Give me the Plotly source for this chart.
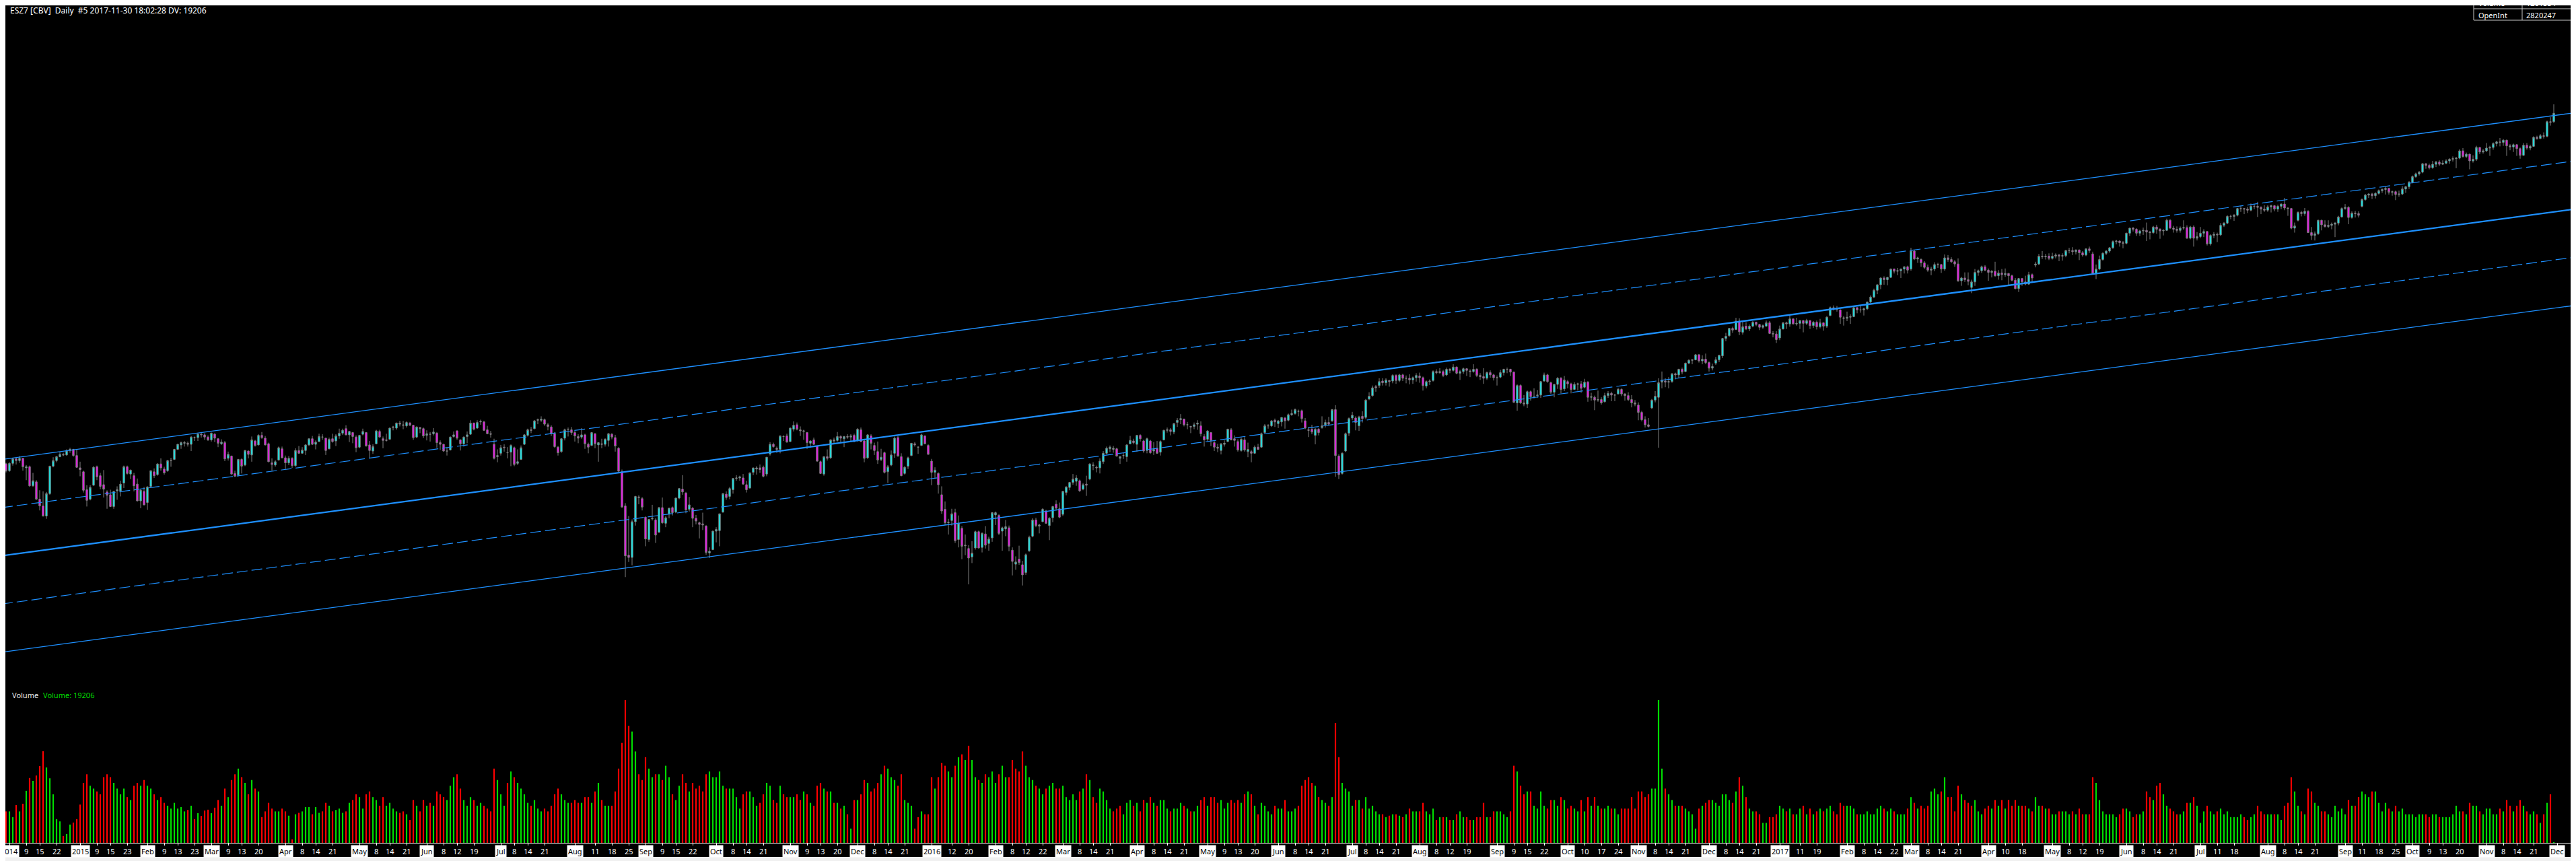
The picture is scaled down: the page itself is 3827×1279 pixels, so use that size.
import pandas as pd
import plotly.graph_objects as go

W, H = 3827, 1279


def px(x):
    return x / W


def py(y):
    return 1 - y / H


# calendario de sessoes (Good Friday 2015 teve sessao curta na CME)
HOLIDAYS = [
    "2014-12-25", "2015-01-01", "2015-01-19", "2015-02-16", "2015-05-25", "2015-07-03",
    "2015-09-07", "2015-11-26", "2015-12-25", "2016-01-01", "2016-01-18", "2016-02-15",
    "2016-03-25", "2016-05-30", "2016-07-04", "2016-09-05", "2016-11-24", "2016-12-26",
    "2017-01-02", "2017-01-16", "2017-02-20", "2017-04-14", "2017-05-29", "2017-07-04",
    "2017-09-04", "2017-11-23",
]
cal = [d.strftime("%Y-%m-%d") for d in pd.bdate_range("2014-12-01", "2017-12-08")]
dates = [d for d in cal if d not in HOLIDAYS]

# OHLC diario (continuo ajustado)
open_ = [
    2015, 2003, 2016, 2024, 2021, 2025, 2008, 2010, 1976, 1983, 1952, 1940, 1922, 1962, 2011, 2021, 2028, 2032, 2031, 2039, 2041, 2030,
    2008, 2001, 1969, 1952, 1977, 2010, 1994, 1978, 1965, 1960, 1939, 1967, 1967, 1981, 2010, 1997, 1994, 1979, 1949, 1966,
    1946, 1975, 2001, 1996, 2015, 2006, 2003, 2021, 2023, 2041, 2049, 2052, 2052, 2050, 2062, 2062, 2068, 2067, 2063,
    2058, 2068, 2060, 2051, 2053, 2025, 2029, 1998, 1995, 2023, 2013, 2038, 2031, 2056, 2049, 2066, 2061, 2051, 2017, 2013, 2022, 2042,
    2026, 2017, 2025, 2012, 2039, 2034, 2039, 2049, 2060, 2050, 2055, 2063, 2061, 2042, 2060, 2056, 2065, 2070, 2078, 2067, 2071, 2063,
    2045, 2068, 2071, 2049, 2038, 2051, 2073, 2060, 2058, 2059, 2080, 2079, 2088, 2085, 2083, 2088, 2084, 2063, 2080, 2078,
    2066, 2068, 2069, 2070, 2053, 2050, 2038, 2040, 2064, 2074, 2058, 2051, 2064, 2068, 2088, 2079, 2090, 2090, 2076, 2069, 2050, 2028,
    2034, 2045, 2035, 2036, 2044, 2016, 2023, 2050, 2066, 2076, 2078, 2093, 2093, 2094, 2085, 2081, 2069, 2045, 2037, 2061, 2076, 2076,
    2071, 2064, 2063, 2067, 2050, 2048, 2069, 2049, 2051, 2050, 2057, 2068, 2062, 2043, 2001, 1940, 1852, 1848, 1912, 1956, 1953,
    1920, 1880, 1917, 1915, 1893, 1937, 1909, 1926, 1937, 1929, 1954, 1970, 1963, 1934, 1936, 1918, 1910, 1908, 1904, 1856, 1862,
    1895, 1896, 1929, 1961, 1957, 1969, 1989, 1990, 1990, 1978, 1972, 2000, 2006, 2008, 2009, 1997, 2033, 2050, 2043, 2041, 2064, 2065,
    2055, 2077, 2085, 2076, 2073, 2071, 2052, 2058, 2047, 2019, 1997, 2028, 2026, 2058, 2057, 2064, 2060, 2064, 2063, 2066,
    2057, 2076, 2056, 2026, 2065, 2048, 2037, 2023, 2035, 2001, 2013, 2034, 2062, 2028, 1998, 2011, 2030, 2051, 2045, 2048, 2065, 2048,
    2020, 2000, 1998, 1960, 1934, 1910, 1914, 1928, 1880, 1900, 1870, 1864, 1849, 1865, 1894, 1866, 1890, 1873, 1883,
    1924, 1923, 1895, 1899, 1901, 1861, 1836, 1845, 1835, 1821, 1860, 1886, 1915, 1904, 1912, 1931, 1905, 1919, 1943, 1935,
    1925, 1964, 1973, 1982, 1984, 1985, 1970, 1979, 1988, 2012, 2009, 2008, 2019, 2034, 2042, 2041, 2042, 2025, 2030, 2028, 2051, 2056,
    2050, 2066, 2056, 2039, 2056, 2038, 2043, 2036, 2058, 2075, 2076, 2072, 2089, 2094, 2095, 2085, 2082, 2082, 2086, 2083, 2064,
    2059, 2071, 2053, 2045, 2039, 2050, 2055, 2076, 2060, 2055, 2039, 2058, 2037, 2037, 2034, 2045, 2045, 2071, 2083, 2083, 2093,
    2087, 2090, 2097, 2093, 2103, 2105, 2109, 2110, 2092, 2076, 2077, 2066, 2077, 2080, 2085, 2089, 2092, 2112, 2029, 1998, 2038, 2070,
    2097, 2097, 2083, 2100, 2098, 2131, 2137, 2153, 2155, 2163, 2160, 2164, 2163, 2173, 2164, 2174, 2168, 2168, 2165, 2169,
    2172, 2169, 2154, 2162, 2164, 2180, 2178, 2180, 2174, 2184, 2182, 2188, 2177, 2180, 2185, 2181, 2180, 2184, 2173, 2171, 2168, 2178, 2174,
    2169, 2170, 2178, 2184, 2184, 2179, 2124, 2155, 2124, 2122, 2144, 2136, 2137, 2138, 2163, 2174, 2160, 2143, 2157, 2168, 2149,
    2162, 2158, 2148, 2157, 2158, 2152, 2161, 2134, 2134, 2129, 2130, 2126, 2137, 2141, 2138, 2140, 2148, 2140, 2137, 2130, 2124,
    2120, 2107, 2094, 2085, 2115, 2129, 2134, 2161, 2163, 2161, 2162, 2176, 2174, 2184, 2180, 2195, 2200, 2201, 2210, 2199, 2202,
    2196, 2186, 2195, 2201, 2208, 2239, 2244, 2257, 2255, 2270, 2250, 2261, 2256, 2261, 2268, 2264, 2259, 2261, 2267, 2248, 2247,
    2240, 2256, 2267, 2265, 2274, 2265, 2266, 2271, 2266, 2271, 2262, 2268, 2260, 2267, 2261, 2280, 2294, 2293, 2290, 2276,
    2275, 2277, 2278, 2294, 2290, 2290, 2292, 2304, 2313, 2325, 2335, 2347, 2344, 2348, 2363, 2359, 2360, 2363, 2367,
    2363, 2395, 2381, 2380, 2374, 2366, 2361, 2363, 2371, 2371, 2363, 2383, 2380, 2376, 2372, 2342, 2347, 2344, 2330, 2340, 2357, 2360, 2367,
    2361, 2357, 2359, 2351, 2356, 2353, 2355, 2351, 2343, 2328, 2346, 2340, 2336, 2353, 2370, 2372, 2386, 2385, 2386,
    2382, 2386, 2388, 2386, 2387, 2396, 2396, 2394, 2397, 2392, 2388, 2399, 2390, 2355, 2363, 2380, 2391, 2395, 2401, 2412, 2413, 2410,
    2409, 2427, 2436, 2434, 2427, 2431, 2432, 2429, 2428, 2438, 2434, 2431, 2432, 2450, 2436, 2434, 2432, 2436, 2437, 2418, 2438, 2418,
    2421, 2427, 2430, 2408, 2423, 2425, 2424, 2441, 2445, 2457, 2457, 2459, 2471, 2471, 2470, 2468, 2475, 2475, 2473, 2470,
    2468, 2474, 2476, 2470, 2475, 2479, 2472, 2471, 2436, 2450, 2464, 2462, 2466, 2428, 2423, 2426, 2450, 2442, 2439, 2441, 2443, 2445, 2456,
    2471, 2473, 2455, 2463, 2462, 2475, 2487, 2495, 2497, 2494, 2498, 2503, 2505, 2507, 2500, 2501, 2496, 2497, 2506, 2510,
    2518, 2528, 2533, 2536, 2551, 2548, 2544, 2550, 2554, 2550, 2552, 2556, 2559, 2560, 2561, 2574, 2564, 2568, 2556, 2559, 2580, 2572,
    2574, 2579, 2580, 2587, 2590, 2589, 2593, 2583, 2581, 2585, 2578, 2566, 2584, 2579, 2582, 2598, 2596, 2601, 2600, 2626, 2626,
]
high = [
    2017, 2018, 2026, 2027, 2029, 2026, 2013, 2012, 1999, 1986, 1968, 1966, 1965, 2012, 2027, 2029, 2036, 2035, 2041, 2044, 2042, 2040,
    2019, 2003, 1977, 1977, 2011, 2012, 1999, 2004, 1968, 1969, 1967, 1975, 1985, 2012, 2012, 2005, 1999, 1989, 1970, 1974,
    1975, 2003, 2007, 2016, 2025, 2010, 2022, 2026, 2042, 2051, 2055, 2056, 2055, 2065, 2064, 2070, 2072, 2070, 2066,
    2071, 2070, 2061, 2059, 2056, 2037, 2030, 2003, 2024, 2025, 2040, 2039, 2064, 2058, 2068, 2072, 2065, 2053, 2025, 2022, 2046, 2046,
    2030, 2029, 2027, 2043, 2047, 2045, 2050, 2060, 2065, 2057, 2069, 2068, 2062, 2062, 2069, 2068, 2078, 2078, 2084, 2074, 2072, 2066,
    2067, 2078, 2072, 2056, 2050, 2076, 2076, 2064, 2069, 2080, 2083, 2089, 2092, 2092, 2091, 2090, 2085, 2082, 2081, 2080,
    2075, 2072, 2079, 2072, 2057, 2051, 2045, 2064, 2073, 2075, 2059, 2064, 2073, 2093, 2089, 2093, 2094, 2092, 2083, 2074, 2060, 2041,
    2049, 2050, 2045, 2050, 2046, 2041, 2048, 2068, 2078, 2081, 2093, 2096, 2100, 2096, 2088, 2084, 2072, 2047, 2061, 2078, 2080, 2081,
    2074, 2068, 2079, 2069, 2053, 2072, 2070, 2054, 2060, 2061, 2070, 2070, 2067, 2045, 2005, 1945, 1922, 1916, 1958, 1959, 1956,
    1921, 1917, 1942, 1918, 1938, 1955, 1922, 1937, 1939, 1955, 1972, 1995, 1965, 1956, 1938, 1924, 1912, 1928, 1906, 1866, 1896,
    1902, 1926, 1963, 1966, 1974, 1990, 1995, 1994, 1997, 1985, 2000, 2008, 2011, 2014, 2012, 2027, 2054, 2053, 2046, 2066, 2066, 2069,
    2080, 2091, 2089, 2082, 2076, 2072, 2057, 2062, 2048, 2021, 2028, 2041, 2059, 2062, 2072, 2066, 2065, 2068, 2068, 2069,
    2079, 2080, 2060, 2068, 2068, 2053, 2055, 2042, 2037, 2013, 2039, 2064, 2065, 2034, 2011, 2028, 2052, 2054, 2046, 2069, 2066, 2050,
    2024, 2009, 2000, 1975, 1948, 1917, 1935, 1935, 1923, 1904, 1889, 1870, 1877, 1896, 1896, 1893, 1904, 1885, 1929,
    1930, 1925, 1903, 1915, 1905, 1866, 1850, 1869, 1842, 1855, 1887, 1918, 1919, 1908, 1936, 1933, 1920, 1940, 1950, 1946,
    1967, 1975, 1983, 1997, 1995, 1987, 1981, 1994, 2016, 2018, 2012, 2025, 2038, 2046, 2048, 2047, 2044, 2029, 2035, 2050, 2065, 2060,
    2067, 2068, 2058, 2062, 2058, 2054, 2056, 2057, 2076, 2080, 2079, 2088, 2097, 2104, 2096, 2090, 2083, 2089, 2093, 2091, 2068,
    2075, 2072, 2056, 2051, 2052, 2057, 2078, 2079, 2066, 2059, 2062, 2063, 2053, 2040, 2048, 2051, 2071, 2086, 2086, 2093, 2096,
    2093, 2098, 2099, 2105, 2112, 2114, 2112, 2112, 2097, 2081, 2085, 2079, 2079, 2100, 2094, 2099, 2113, 2120, 2032, 2036, 2071, 2098,
    2108, 2100, 2101, 2109, 2131, 2143, 2155, 2156, 2168, 2168, 2168, 2165, 2175, 2175, 2176, 2176, 2173, 2175, 2171, 2177,
    2178, 2171, 2164, 2166, 2182, 2184, 2186, 2183, 2187, 2186, 2193, 2189, 2183, 2187, 2186, 2184, 2193, 2186, 2177, 2186, 2180, 2182, 2176,
    2173, 2183, 2185, 2187, 2185, 2180, 2157, 2157, 2138, 2146, 2146, 2150, 2147, 2163, 2178, 2176, 2162, 2158, 2170, 2170, 2172,
    2165, 2160, 2161, 2160, 2163, 2167, 2163, 2142, 2137, 2146, 2134, 2142, 2145, 2144, 2140, 2151, 2150, 2141, 2143, 2138, 2129,
    2125, 2110, 2100, 2097, 2131, 2145, 2168, 2180, 2168, 2170, 2177, 2178, 2185, 2187, 2196, 2202, 2202, 2211, 2211, 2209, 2212,
    2198, 2194, 2206, 2210, 2240, 2249, 2258, 2260, 2276, 2275, 2270, 2268, 2264, 2270, 2269, 2265, 2264, 2271, 2270, 2252, 2252,
    2262, 2268, 2269, 2280, 2275, 2276, 2272, 2272, 2274, 2272, 2270, 2271, 2274, 2268, 2279, 2296, 2298, 2297, 2291, 2279,
    2287, 2282, 2295, 2295, 2298, 2294, 2305, 2316, 2328, 2335, 2348, 2350, 2349, 2364, 2364, 2365, 2364, 2368, 2369,
    2401, 2397, 2385, 2382, 2377, 2371, 2367, 2375, 2374, 2372, 2389, 2388, 2384, 2379, 2382, 2349, 2357, 2357, 2344, 2363, 2362, 2369, 2370,
    2364, 2361, 2376, 2361, 2363, 2364, 2356, 2353, 2347, 2347, 2347, 2351, 2358, 2355, 2376, 2390, 2395, 2390, 2391,
    2392, 2391, 2390, 2391, 2397, 2401, 2402, 2398, 2398, 2395, 2400, 2403, 2394, 2371, 2387, 2393, 2397, 2402, 2414, 2415, 2414, 2413,
    2428, 2437, 2438, 2436, 2433, 2437, 2446, 2431, 2440, 2442, 2436, 2434, 2453, 2452, 2440, 2439, 2439, 2450, 2441, 2440, 2441, 2429,
    2438, 2434, 2431, 2425, 2429, 2428, 2445, 2447, 2459, 2460, 2461, 2472, 2476, 2472, 2474, 2480, 2479, 2483, 2475, 2477,
    2477, 2478, 2477, 2478, 2480, 2490, 2473, 2472, 2446, 2466, 2467, 2472, 2468, 2438, 2430, 2451, 2451, 2450, 2450, 2446, 2447, 2458, 2473,
    2479, 2475, 2466, 2467, 2466, 2489, 2497, 2498, 2499, 2500, 2505, 2507, 2510, 2508, 2503, 2503, 2503, 2511, 2511, 2520,
    2530, 2535, 2538, 2552, 2552, 2551, 2556, 2556, 2557, 2557, 2559, 2561, 2564, 2563, 2577, 2579, 2571, 2569, 2566, 2583, 2581, 2577,
    2588, 2583, 2589, 2592, 2597, 2595, 2594, 2586, 2587, 2586, 2580, 2588, 2588, 2585, 2600, 2601, 2604, 2607, 2628, 2634, 2657,
]
low = [
    2000, 2001, 2012, 2014, 2017, 2003, 1986, 1974, 1974, 1951, 1932, 1921, 1917, 1960, 2009, 2018, 2027, 2029, 2030, 2035, 2028, 2008,
    1993, 1964, 1939, 1950, 1976, 1986, 1970, 1955, 1935, 1938, 1935, 1951, 1957, 1972, 1996, 1988, 1966, 1948, 1936, 1941,
    1933, 1973, 1990, 1994, 2003, 1996, 2001, 2010, 2022, 2040, 2042, 2046, 2046, 2038, 2056, 2056, 2062, 2058, 2056,
    2055, 2054, 2045, 2049, 2020, 2021, 1996, 1992, 1993, 1998, 2011, 2025, 2019, 2046, 2048, 2060, 2048, 2018, 2003, 2010, 2021, 2025,
    2006, 2013, 2008, 2010, 2033, 2033, 2031, 2047, 2049, 2041, 2054, 2058, 2031, 2041, 2053, 2047, 2060, 2067, 2066, 2054, 2052, 2036,
    2043, 2066, 2046, 2026, 2033, 2050, 2062, 2043, 2055, 2058, 2075, 2076, 2082, 2077, 2080, 2083, 2058, 2061, 2070, 2061,
    2057, 2055, 2066, 2044, 2040, 2037, 2030, 2039, 2062, 2058, 2039, 2046, 2052, 2067, 2075, 2078, 2085, 2074, 2068, 2062, 2023, 2018,
    2030, 2037, 2025, 2011, 2011, 2013, 2022, 2049, 2064, 2070, 2077, 2086, 2090, 2083, 2075, 2065, 2044, 2030, 2035, 2057, 2064, 2067,
    2055, 2052, 2060, 2042, 2034, 2047, 2043, 2019, 2043, 2046, 2046, 2059, 2037, 2001, 1937, 1813, 1840, 1834, 1905, 1943, 1932,
    1868, 1876, 1914, 1874, 1892, 1908, 1902, 1918, 1923, 1927, 1952, 1960, 1927, 1930, 1902, 1907, 1882, 1897, 1853, 1847, 1861,
    1875, 1868, 1928, 1951, 1952, 1962, 1985, 1985, 1978, 1964, 1971, 1995, 1996, 1999, 1991, 1993, 2030, 2044, 2035, 2034, 2056, 2053,
    2054, 2073, 2075, 2065, 2058, 2042, 2044, 2049, 2019, 1997, 1994, 2021, 2024, 2052, 2055, 2053, 2045, 2060, 2056, 2054,
    2055, 2054, 2018, 2024, 2041, 2031, 2015, 2020, 1998, 1981, 2011, 2026, 2028, 1993, 1996, 2006, 2029, 2046, 2033, 2047, 2050, 2032,
    1977, 1990, 1962, 1926, 1906, 1889, 1905, 1874, 1866, 1845, 1852, 1800, 1838, 1862, 1864, 1857, 1864, 1860, 1876,
    1906, 1888, 1860, 1886, 1859, 1816, 1826, 1835, 1798, 1817, 1858, 1884, 1902, 1891, 1911, 1908, 1879, 1911, 1932, 1918,
    1922, 1959, 1968, 1978, 1976, 1965, 1968, 1958, 1986, 2004, 2000, 1998, 2015, 2032, 2036, 2035, 2028, 2015, 2024, 2019, 2050, 2050,
    2037, 2055, 2035, 2034, 2033, 2031, 2033, 2030, 2057, 2071, 2066, 2068, 2081, 2086, 2082, 2077, 2070, 2077, 2076, 2064, 2046,
    2055, 2047, 2038, 2036, 2032, 2046, 2054, 2057, 2046, 2037, 2037, 2037, 2027, 2018, 2033, 2040, 2044, 2070, 2078, 2081, 2081,
    2079, 2082, 2078, 2091, 2101, 2103, 2100, 2089, 2077, 2063, 2068, 2050, 2066, 2078, 2080, 2083, 2090, 1992, 1988, 1996, 2036, 2065,
    2093, 2075, 2074, 2089, 2095, 2129, 2135, 2144, 2151, 2155, 2155, 2153, 2159, 2158, 2161, 2163, 2159, 2157, 2158, 2162,
    2160, 2146, 2150, 2156, 2162, 2175, 2176, 2170, 2172, 2177, 2180, 2175, 2165, 2176, 2172, 2170, 2178, 2170, 2165, 2158, 2165, 2169, 2164,
    2155, 2168, 2173, 2177, 2172, 2124, 2110, 2122, 2118, 2115, 2128, 2132, 2133, 2133, 2162, 2160, 2140, 2134, 2149, 2141, 2145,
    2150, 2141, 2147, 2146, 2142, 2150, 2126, 2128, 2111, 2126, 2121, 2125, 2133, 2127, 2127, 2139, 2136, 2128, 2127, 2116, 2118,
    2093, 2091, 2080, 2080, 2113, 2125, 2044, 2150, 2152, 2150, 2160, 2166, 2169, 2175, 2179, 2193, 2193, 2200, 2196, 2193, 2193,
    2180, 2182, 2192, 2197, 2204, 2234, 2242, 2249, 2254, 2245, 2246, 2254, 2252, 2259, 2261, 2254, 2256, 2260, 2247, 2241, 2231,
    2236, 2255, 2256, 2260, 2264, 2262, 2256, 2250, 2263, 2256, 2258, 2255, 2257, 2253, 2258, 2279, 2289, 2287, 2265, 2262,
    2270, 2265, 2277, 2284, 2285, 2280, 2290, 2302, 2311, 2318, 2327, 2335, 2334, 2347, 2355, 2352, 2347, 2355, 2355,
    2360, 2379, 2374, 2367, 2363, 2358, 2352, 2359, 2365, 2356, 2360, 2376, 2374, 2367, 2340, 2333, 2340, 2334, 2320, 2333, 2351, 2356, 2359,
    2342, 2348, 2349, 2344, 2343, 2349, 2335, 2341, 2327, 2322, 2333, 2334, 2335, 2341, 2366, 2370, 2381, 2380, 2379,
    2380, 2382, 2377, 2378, 2384, 2391, 2388, 2389, 2379, 2385, 2386, 2392, 2354, 2345, 2361, 2378, 2388, 2392, 2399, 2407, 2403, 2400,
    2407, 2422, 2430, 2422, 2422, 2424, 2413, 2416, 2426, 2426, 2417, 2423, 2431, 2435, 2428, 2428, 2428, 2433, 2417, 2416, 2403, 2414,
    2418, 2420, 2405, 2405, 2418, 2411, 2422, 2438, 2443, 2452, 2449, 2457, 2465, 2461, 2463, 2466, 2470, 2456, 2461, 2465,
    2465, 2464, 2466, 2465, 2470, 2468, 2458, 2434, 2428, 2448, 2457, 2458, 2428, 2415, 2414, 2424, 2432, 2437, 2436, 2434, 2420, 2441, 2455,
    2469, 2443, 2453, 2455, 2455, 2473, 2485, 2490, 2488, 2489, 2496, 2499, 2496, 2496, 2494, 2486, 2492, 2495, 2499, 2506,
    2516, 2526, 2530, 2534, 2542, 2541, 2542, 2545, 2547, 2549, 2550, 2551, 2555, 2543, 2559, 2562, 2561, 2541, 2553, 2556, 2568, 2569,
    2572, 2565, 2576, 2582, 2582, 2583, 2565, 2575, 2572, 2565, 2560, 2565, 2576, 2575, 2581, 2594, 2595, 2596, 2598, 2619, 2624,
]
close = [
    2003, 2016, 2024, 2021, 2025, 2010, 2010, 1976, 1985, 1952, 1940, 1922, 1962, 2011, 2021, 2028, 2032, 2031, 2039, 2041, 2030, 2009,
    2005, 1968, 1950, 1973, 2009, 1992, 1975, 1970, 1959, 1939, 1966, 1969, 1979, 2010, 1998, 2004, 1976, 1949, 1968, 1942,
    1974, 2003, 1994, 2015, 2008, 1999, 2021, 2021, 2041, 2050, 2053, 2053, 2050, 2063, 2062, 2068, 2067, 2063, 2058,
    2070, 2061, 2052, 2054, 2024, 2032, 1997, 1993, 2023, 2011, 2039, 2032, 2058, 2048, 2066, 2062, 2049, 2019, 2014, 2019, 2044, 2026,
    2017, 2025, 2012, 2039, 2034, 2040, 2049, 2060, 2050, 2054, 2064, 2063, 2039, 2059, 2055, 2065, 2070, 2075, 2067, 2073, 2064, 2044,
    2066, 2073, 2047, 2039, 2046, 2074, 2063, 2057, 2057, 2079, 2081, 2088, 2086, 2084, 2089, 2084, 2062, 2081, 2078, 2065,
    2069, 2068, 2072, 2053, 2050, 2038, 2038, 2063, 2067, 2061, 2051, 2063, 2067, 2088, 2077, 2089, 2091, 2075, 2069, 2068, 2025, 2030,
    2044, 2044, 2035, 2048, 2014, 2019, 2044, 2067, 2076, 2075, 2092, 2094, 2095, 2086, 2082, 2069, 2046, 2035, 2060, 2076, 2076, 2071,
    2065, 2061, 2067, 2051, 2045, 2071, 2051, 2053, 2050, 2059, 2069, 2063, 2047, 2002, 1938, 1851, 1848, 1912, 1957, 1955, 1938,
    1881, 1916, 1918, 1888, 1937, 1910, 1919, 1936, 1928, 1954, 1971, 1965, 1933, 1942, 1918, 1913, 1907, 1906, 1857, 1859, 1895,
    1898, 1926, 1962, 1955, 1971, 1989, 1990, 1992, 1979, 1969, 1999, 2008, 2008, 2005, 1993, 2027, 2050, 2046, 2041, 2065, 2064, 2054,
    2079, 2084, 2077, 2074, 2074, 2053, 2056, 2050, 2020, 1998, 2028, 2025, 2058, 2056, 2064, 2061, 2064, 2063, 2065, 2055,
    2077, 2055, 2025, 2067, 2052, 2039, 2022, 2027, 2000, 2010, 2031, 2061, 2029, 1994, 2009, 2026, 2052, 2049, 2045, 2067, 2051, 2032,
    2000, 2004, 1978, 1931, 1910, 1911, 1926, 1878, 1909, 1868, 1869, 1847, 1856, 1894, 1865, 1891, 1870, 1881, 1928,
    1928, 1891, 1901, 1903, 1868, 1841, 1840, 1839, 1817, 1853, 1884, 1915, 1905, 1906, 1934, 1909, 1918, 1939, 1936, 1920,
    1966, 1974, 1982, 1988, 1990, 1967, 1978, 1977, 2015, 2013, 2008, 2020, 2034, 2043, 2045, 2043, 2029, 2028, 2030, 2049, 2057, 2053,
    2066, 2060, 2038, 2060, 2035, 2041, 2034, 2055, 2075, 2076, 2073, 2087, 2093, 2096, 2085, 2085, 2081, 2085, 2088, 2069, 2058,
    2074, 2057, 2045, 2043, 2051, 2052, 2077, 2058, 2057, 2040, 2059, 2040, 2041, 2034, 2045, 2041, 2069, 2083, 2083, 2092, 2090,
    2092, 2098, 2092, 2103, 2105, 2112, 2109, 2096, 2079, 2075, 2072, 2077, 2071, 2083, 2089, 2086, 2112, 2030, 1996, 2034, 2069, 2096,
    2102, 2089, 2099, 2096, 2129, 2136, 2151, 2151, 2162, 2160, 2165, 2162, 2173, 2164, 2174, 2168, 2168, 2165, 2169, 2173,
    2169, 2155, 2162, 2163, 2180, 2178, 2180, 2173, 2184, 2182, 2188, 2177, 2180, 2185, 2182, 2180, 2184, 2173, 2171, 2168, 2178, 2174, 2169,
    2169, 2178, 2184, 2184, 2179, 2125, 2155, 2124, 2122, 2144, 2135, 2136, 2138, 2162, 2174, 2162, 2143, 2157, 2168, 2148, 2165,
    2158, 2148, 2157, 2158, 2150, 2161, 2134, 2135, 2129, 2130, 2124, 2137, 2141, 2138, 2138, 2148, 2140, 2137, 2130, 2124, 2122,
    2107, 2094, 2085, 2082, 2129, 2136, 2160, 2164, 2161, 2162, 2176, 2174, 2184, 2179, 2195, 2200, 2201, 2210, 2199, 2202, 2196,
    2186, 2189, 2201, 2209, 2239, 2243, 2257, 2254, 2270, 2251, 2260, 2256, 2261, 2268, 2264, 2259, 2262, 2267, 2248, 2247, 2237,
    2256, 2267, 2265, 2274, 2265, 2266, 2271, 2266, 2271, 2262, 2268, 2260, 2267, 2261, 2277, 2294, 2293, 2291, 2277, 2275,
    2277, 2278, 2294, 2290, 2290, 2292, 2304, 2313, 2325, 2335, 2347, 2344, 2348, 2363, 2359, 2360, 2363, 2367, 2361,
    2395, 2381, 2383, 2374, 2366, 2361, 2363, 2371, 2371, 2363, 2383, 2380, 2376, 2372, 2342, 2347, 2344, 2341, 2340, 2357, 2360, 2367, 2361,
    2357, 2359, 2351, 2356, 2353, 2355, 2351, 2343, 2328, 2346, 2340, 2336, 2353, 2347, 2372, 2386, 2385, 2386, 2382,
    2386, 2388, 2386, 2387, 2396, 2396, 2394, 2397, 2392, 2388, 2399, 2396, 2355, 2363, 2380, 2391, 2395, 2401, 2412, 2413, 2410, 2409,
    2427, 2436, 2434, 2427, 2431, 2432, 2429, 2428, 2438, 2434, 2431, 2432, 2450, 2436, 2434, 2432, 2436, 2437, 2418, 2438, 2418, 2421,
    2427, 2430, 2408, 2423, 2425, 2424, 2441, 2445, 2457, 2457, 2459, 2471, 2471, 2470, 2468, 2475, 2475, 2473, 2470, 2468,
    2474, 2476, 2470, 2475, 2479, 2472, 2471, 2436, 2440, 2464, 2462, 2466, 2428, 2423, 2426, 2450, 2442, 2439, 2441, 2443, 2445, 2456, 2471,
    2473, 2455, 2463, 2462, 2459, 2487, 2495, 2497, 2494, 2498, 2503, 2505, 2507, 2500, 2501, 2496, 2497, 2506, 2510, 2518,
    2528, 2533, 2536, 2551, 2548, 2544, 2550, 2554, 2550, 2552, 2556, 2559, 2560, 2561, 2574, 2564, 2568, 2556, 2559, 2580, 2572, 2574,
    2579, 2580, 2587, 2590, 2589, 2593, 2583, 2581, 2585, 2578, 2566, 2584, 2579, 2582, 2598, 2596, 2601, 2600, 2626, 2625, 2641,
]
# volume em milhares de contratos
volume = [
    1100, 1100, 900, 1320, 1100, 1370, 1820, 2270, 2170, 2360, 2690, 3210, 2640, 2260, 1700, 830, 750, 240, 310, 640, 710, 830,
    1340, 2100, 2400, 2000, 1900, 1800, 1700, 2300, 2400, 2300, 2100, 1900, 1700, 1900, 1600, 1500, 2000, 2100, 2000, 2200,
    2000, 1900, 1700, 1500, 1600, 1400, 1300, 1200, 1400, 1200, 1250, 1100, 1150, 1300, 830, 1040, 940, 1130, 1160,
    1040, 1230, 1500, 1300, 1900, 1600, 2200, 2400, 2600, 2300, 2100, 1700, 2200, 1900, 1800, 900, 1100, 1400, 1200, 1100, 1100, 1200,
    1100, 950, 120, 1000, 1050, 1100, 1250, 1250, 1000, 1250, 1050, 1100, 1400, 1300, 1100, 1150, 1200, 1050, 1100, 1400, 1500, 1700,
    1600, 1200, 1700, 1800, 1600, 1500, 1300, 1600, 1300, 1400, 1200, 1100, 1050, 1100, 1000, 800, 1500, 1300, 1100, 1500,
    1300, 1400, 1300, 1800, 1700, 1600, 1500, 2000, 2300, 2400, 1900, 1500, 1300, 1600, 1500, 1300, 1400, 1300, 1200, 1100, 2600, 2200,
    1700, 1300, 2100, 2500, 2300, 2100, 1900, 1700, 1400, 1300, 1500, 1200, 1100, 1200, 1100, 1300, 1700, 1900, 1700, 1500, 1400, 1400,
    1500, 1400, 1400, 1600, 1600, 1400, 1800, 2100, 1500, 1300, 1300, 1300, 1800, 2600, 3500, 5000, 4100, 3900, 3200, 2400, 2200,
    3000, 2600, 2300, 2400, 2400, 2200, 2700, 2300, 1700, 1500, 2000, 2400, 2100, 1800, 2100, 1900, 2000, 1800, 2400, 2500, 2300,
    2300, 2500, 2000, 1900, 1900, 1900, 1600, 1200, 1700, 1800, 1800, 1600, 1300, 1400, 1700, 2100, 2000, 1500, 1400, 2000, 1700, 1600,
    1600, 1600, 1700, 1500, 1800, 1700, 1400, 1300, 2000, 2100, 1900, 1800, 1800, 1400, 1400, 1200, 1300, 1000, 500, 1500,
    1500, 1700, 2200, 2100, 1800, 1900, 2100, 2400, 2700, 2600, 2300, 2200, 2000, 2400, 1500, 1400, 1300, 500, 900, 1100, 1000, 1000,
    2300, 1900, 2300, 2800, 2700, 2500, 2300, 2700, 3000, 3100, 2900, 3400, 2900, 2300, 2200, 2100, 2400, 2300, 2500,
    2100, 2400, 2700, 2300, 2300, 2900, 2600, 2500, 3200, 2700, 2300, 2200, 2000, 1900, 1700, 1900, 2000, 2100, 1900, 1900,
    2000, 1600, 1500, 1700, 1500, 1800, 1900, 2400, 2200, 1600, 1400, 1900, 1800, 1500, 1200, 1100, 1200, 1300, 1000, 1400, 1500, 1300,
    1400, 1100, 1500, 1400, 1600, 1400, 1300, 1500, 1500, 1200, 1100, 1200, 1200, 1400, 1300, 1200, 1100, 1100, 1300, 1500, 1600,
    1300, 1600, 1600, 1400, 1500, 1200, 1400, 1500, 1400, 1500, 1400, 1700, 1800, 1700, 1300, 1000, 1400, 1300, 1100, 1000, 1300,
    1200, 1200, 1500, 1100, 1100, 1200, 1300, 2000, 2200, 2300, 2100, 2000, 1600, 1500, 1400, 1300, 1600, 4200, 3000, 2100, 1900, 1800,
    1300, 1500, 1500, 1200, 1600, 1200, 1300, 1100, 1000, 1000, 900, 950, 1000, 1000, 950, 900, 1000, 1200, 1100, 1100,
    1100, 1400, 1100, 1000, 1200, 800, 900, 900, 900, 800, 800, 1000, 1100, 900, 900, 800, 800, 900, 900, 1400, 900, 900, 1100,
    1100, 1100, 1000, 900, 1100, 2700, 2500, 2000, 1700, 1800, 1800, 1300, 1200, 1800, 1300, 1200, 1500, 1500, 1300, 1600, 1500,
    1200, 1300, 1200, 1100, 1500, 1100, 1600, 1300, 1600, 1300, 1200, 1200, 1300, 1200, 1200, 1000, 1200, 1200, 1200, 1600, 1200,
    1800, 1800, 1600, 1700, 1900, 1900, 5000, 2600, 1900, 1700, 1500, 1300, 1300, 1300, 1200, 1100, 1000, 500, 1200, 1300, 1400,
    1500, 1500, 1400, 1300, 1700, 1700, 1500, 1400, 1800, 2300, 2000, 1600, 1200, 1100, 1100, 1000, 700, 700, 900, 900, 1000,
    1300, 1200, 1100, 1200, 1000, 1000, 1200, 1300, 1000, 1200, 1000, 1100, 1200, 1100, 1200, 1300, 1100, 1000, 1400, 1300,
    1300, 1300, 1200, 1000, 1000, 1000, 1100, 1000, 1000, 1200, 1300, 1200, 1100, 1200, 1100, 1000, 1000, 1000, 1200,
    1600, 1400, 1200, 1300, 1200, 1300, 1800, 1900, 1700, 1800, 2300, 1600, 1600, 1100, 2000, 1700, 1500, 1400, 1300, 1500, 1100, 1000, 1200,
    1300, 1200, 1500, 1300, 1500, 1200, 1500, 1300, 1500, 1300, 1300, 1300, 1200, 1100, 1600, 1300, 1300, 1200, 1200,
    1000, 1000, 1100, 1100, 1100, 1000, 1100, 1000, 1200, 1000, 1000, 1000, 2300, 2100, 1500, 1100, 1000, 1000, 1000, 900, 1000, 1200,
    1200, 1100, 900, 1000, 1000, 1100, 1800, 1600, 1500, 2000, 2100, 1700, 1300, 1200, 1100, 1000, 1000, 1100, 1400, 1400, 1600, 1300,
    700, 1100, 1300, 1100, 1000, 1100, 1200, 1000, 1100, 900, 900, 900, 1000, 900, 800, 900, 1000, 1300, 1100, 1000,
    1000, 1000, 1000, 1000, 800, 1300, 1400, 2300, 1800, 1300, 1100, 1000, 1900, 1800, 1400, 1300, 1100, 1100, 1000, 900, 1300, 1100, 1200,
    1000, 1500, 1300, 1300, 1600, 1800, 1700, 1600, 1800, 1800, 1400, 1100, 1400, 1200, 1100, 1300, 1100, 1200, 1000, 1000,
    1000, 900, 1000, 1000, 1000, 900, 1000, 1000, 900, 900, 900, 900, 1000, 1300, 1100, 1100, 1000, 1400, 1300, 1300, 1100, 1000,
    1200, 1200, 1000, 1000, 1200, 1100, 1500, 1300, 1100, 1300, 1500, 1300, 1100, 1000, 1100, 1000, 700, 1000, 1400, 1700, 19.2,
]

# canal de regressao (linha central nos extremos da serie e desvios)
reg_idx = [0, 757]
reg_mid = [1852, 2465]
reg_dev = [172, 86, 0, -86, -172]

# rotulos do eixo de datas
tick_dates = [
    "2014-12-02", "2014-12-09", "2014-12-15", "2014-12-22",
    "2015-01-02", "2015-01-09", "2015-01-15", "2015-01-23", "2015-02-02", "2015-02-09", "2015-02-13", "2015-02-23",
    "2015-03-02", "2015-03-09", "2015-03-13", "2015-03-20", "2015-04-01", "2015-04-08", "2015-04-14", "2015-04-21",
    "2015-05-01", "2015-05-08", "2015-05-14", "2015-05-21", "2015-06-01", "2015-06-08", "2015-06-12", "2015-06-19",
    "2015-07-01", "2015-07-08", "2015-07-14", "2015-07-21", "2015-08-03", "2015-08-11", "2015-08-18", "2015-08-25",
    "2015-09-01", "2015-09-09", "2015-09-15", "2015-09-22", "2015-10-01", "2015-10-08", "2015-10-14", "2015-10-21",
    "2015-11-02", "2015-11-09", "2015-11-13", "2015-11-20", "2015-12-01", "2015-12-08", "2015-12-14", "2015-12-21",
    "2016-01-04", "2016-01-12", "2016-01-20", "2016-02-01", "2016-02-08", "2016-02-12", "2016-02-22",
    "2016-03-01", "2016-03-08", "2016-03-14", "2016-03-21", "2016-04-01", "2016-04-08", "2016-04-14", "2016-04-21",
    "2016-05-02", "2016-05-09", "2016-05-13", "2016-05-20", "2016-06-01", "2016-06-08", "2016-06-14", "2016-06-21",
    "2016-07-01", "2016-07-08", "2016-07-14", "2016-07-21", "2016-08-01", "2016-08-08", "2016-08-12", "2016-08-19",
    "2016-09-01", "2016-09-09", "2016-09-15", "2016-09-22", "2016-10-03", "2016-10-10", "2016-10-17", "2016-10-24",
    "2016-11-01", "2016-11-08", "2016-11-14", "2016-11-21", "2016-12-01", "2016-12-08", "2016-12-14", "2016-12-21",
    "2017-01-03", "2017-01-11", "2017-01-19", "2017-02-01", "2017-02-08", "2017-02-14", "2017-02-22",
    "2017-03-01", "2017-03-08", "2017-03-14", "2017-03-21", "2017-04-03", "2017-04-10", "2017-04-18",
    "2017-05-01", "2017-05-08", "2017-05-12", "2017-05-19", "2017-06-01", "2017-06-08", "2017-06-14", "2017-06-21",
    "2017-07-03", "2017-07-11", "2017-07-18", "2017-08-01", "2017-08-08", "2017-08-14", "2017-08-21",
    "2017-09-01", "2017-09-11", "2017-09-18", "2017-09-25", "2017-10-02", "2017-10-09", "2017-10-13", "2017-10-20",
    "2017-11-01", "2017-11-08", "2017-11-14", "2017-11-21", "2017-12-01", "2017-12-08",
]
tick_text = [
    "2014", "9", "15", "22",
    "2015", "9", "15", "23", "Feb", "9", "13", "23",
    "Mar", "9", "13", "20", "Apr", "8", "14", "21",
    "May", "8", "14", "21", "Jun", "8", "12", "19",
    "Jul", "8", "14", "21", "Aug", "11", "18", "25",
    "Sep", "9", "15", "22", "Oct", "8", "14", "21",
    "Nov", "9", "13", "20", "Dec", "8", "14", "21",
    "2016", "12", "20", "Feb", "8", "12", "22",
    "Mar", "8", "14", "21", "Apr", "8", "14", "21",
    "May", "9", "13", "20", "Jun", "8", "14", "21",
    "Jul", "8", "14", "21", "Aug", "8", "12", "19",
    "Sep", "9", "15", "22", "Oct", "10", "17", "24",
    "Nov", "8", "14", "21", "Dec", "8", "14", "21",
    "2017", "11", "19", "Feb", "8", "14", "22",
    "Mar", "8", "14", "21", "Apr", "10", "18",
    "May", "8", "12", "19", "Jun", "8", "14", "21",
    "Jul", "11", "18", "Aug", "8", "14", "21",
    "Sep", "11", "18", "25", "Oct", "9", "13", "20",
    "Nov", "8", "14", "21", "Dec", "8",
]

n = len(close)
assert len(open_) == n and len(high) == n and len(low) == n and len(volume) == n, (
    len(open_), len(high), len(low), len(close), len(volume))
assert n == dates.index("2017-11-30") + 1, (n, dates.index("2017-11-30") + 1)

x = list(range(n))
X_RANGE = [-0.2, 765.2]

UP_FILL, DN_FILL, WICK = "#00ffff", "#ff00ff", "#808080"
VOL_UP, VOL_DN = "#00dc00", "#ff0000"
CH_BLUE = "#1e90ff"

fig = go.Figure()

fig.add_trace(go.Candlestick(
    x=x, open=open_, high=high, low=low, close=close,
    increasing=dict(line=dict(color=WICK, width=1), fillcolor=UP_FILL),
    decreasing=dict(line=dict(color=WICK, width=1), fillcolor=DN_FILL),
    whiskerwidth=0, showlegend=False, hoverinfo="skip",
))

# canal
slope = (reg_mid[1] - reg_mid[0]) / (reg_idx[1] - reg_idx[0])
x_ends = [X_RANGE[0] - 1, X_RANGE[1] + 1]
for dev in reg_dev:
    ys = [reg_mid[0] + dev + slope * (xe - reg_idx[0]) for xe in x_ends]
    if dev == 0:
        ln = dict(color=CH_BLUE, width=2.3)
    elif abs(dev) > 100:
        ln = dict(color=CH_BLUE, width=1.3)
    else:
        ln = dict(color=CH_BLUE, width=1.2, dash="16px,6px")
    fig.add_trace(go.Scatter(x=x_ends, y=ys, mode="lines", line=ln,
                             showlegend=False, hoverinfo="skip"))

vol_colors = []
for i in range(n):
    ref = close[i - 1] if i > 0 else open_[i]
    vol_colors.append(VOL_UP if close[i] >= ref else VOL_DN)

fig.add_trace(go.Bar(
    x=x, y=volume, width=0.44, marker=dict(color=vol_colors, line=dict(width=0)),
    yaxis="y2", showlegend=False, hoverinfo="skip",
))

tick_pos = [dates.index(d) for d in tick_dates]

annotations = []
LBL_FONT = "Noto Sans"
for pos, txt in zip(tick_pos, tick_text):
    boxed = not (txt.isdigit() and len(txt) <= 2)
    annotations.append(dict(
        x=pos, y=py(1256), xref="x", yref="paper", text=txt, showarrow=False,
        xanchor="center", yanchor="middle",
        font=dict(family=LBL_FONT, size=11, color="#000000" if boxed else "#ffffff"),
        bgcolor="#ffffff" if boxed else None, borderpad=1,
    ))

annotations += [
    dict(x=px(5), y=py(8), xref="paper", yref="paper", xanchor="left", yanchor="middle",
         text="ESZ7 [CBV]\u00a0\u00a0Daily\u00a0\u00a0#5 2017-11-30 18:02:28 DV: 19206",
         showarrow=False, font=dict(family=LBL_FONT, size=12, color="#ffffff")),
    dict(x=px(8), y=py(1024), xref="paper", yref="paper", xanchor="left", yanchor="middle",
         text="Volume", showarrow=False, font=dict(family=LBL_FONT, size=11, color="#e8e8e8")),
    dict(x=px(54), y=py(1024), xref="paper", yref="paper", xanchor="left", yanchor="middle",
         text="Volume: 19206", showarrow=False, font=dict(family=LBL_FONT, size=11, color=VOL_UP)),
    dict(x=px(3672), y=py(14), xref="paper", yref="paper", xanchor="left", yanchor="middle",
         text="OpenInt", showarrow=False, font=dict(family=LBL_FONT, size=11, color="#ffffff")),
    dict(x=px(3743), y=py(14), xref="paper", yref="paper", xanchor="left", yanchor="middle",
         text="2820247", showarrow=False, font=dict(family=LBL_FONT, size=11, color="#ffffff")),
    dict(x=px(3672), y=py(-4), xref="paper", yref="paper", xanchor="left", yanchor="middle",
         text="Volume", showarrow=False, font=dict(family=LBL_FONT, size=11, color="#ffffff")),
    dict(x=px(3743), y=py(-4), xref="paper", yref="paper", xanchor="left", yanchor="middle",
         text="1261334", showarrow=False, font=dict(family=LBL_FONT, size=11, color="#ffffff")),
    dict(x=px(7), y=py(1272), xref="paper", yref="paper", xanchor="center", yanchor="middle",
         text="\u2039", showarrow=False, font=dict(family=LBL_FONT, size=14, color="#a0a0a0")),
]

BORDER = "#c8c8c8"
shapes = [
    # barra de rolagem
    dict(type="rect", xref="paper", yref="paper", x0=0, x1=1, y0=0, y1=py(1265),
         fillcolor="#f0f0f0", line=dict(width=0), layer="above"),
    # quadro de dados no canto
    dict(type="rect", xref="paper", yref="paper", x0=px(3667), x1=px(3812), y0=py(22), y1=py(-14),
         fillcolor="#000000", line=dict(color=BORDER, width=1), layer="below"),
    dict(type="line", xref="paper", yref="paper", x0=px(3667), x1=px(3812), y0=py(5), y1=py(5),
         line=dict(color=BORDER, width=1)),
    dict(type="line", xref="paper", yref="paper", x0=px(3739), x1=px(3739), y0=py(22), y1=py(-14),
         line=dict(color=BORDER, width=1)),
]

fig.update_layout(
    width=W, height=H, autosize=False,
    margin=dict(l=0, r=0, t=0, b=0, pad=0),
    paper_bgcolor="#000000", plot_bgcolor="#000000",
    hovermode=False, showlegend=False, boxgap=0.32,
    xaxis=dict(
        domain=[0, 1], range=X_RANGE, anchor="y2", rangeslider=dict(visible=False),
        showgrid=False, zeroline=False, showline=True, linecolor="#ffffff", linewidth=1,
        tickmode="array", tickvals=tick_pos, ticks="outside", ticklen=3, tickcolor="#ffffff",
        showticklabels=False, fixedrange=True,
    ),
    yaxis=dict(domain=[1 - 1005 / H, 1], range=[1625.8, 2833.7], visible=False, fixedrange=True),
    yaxis2=dict(domain=[35 / H, 259 / H], range=[0, 5283], visible=False, fixedrange=True),
    annotations=annotations, shapes=shapes,
)

fig.write_html("out.html")
